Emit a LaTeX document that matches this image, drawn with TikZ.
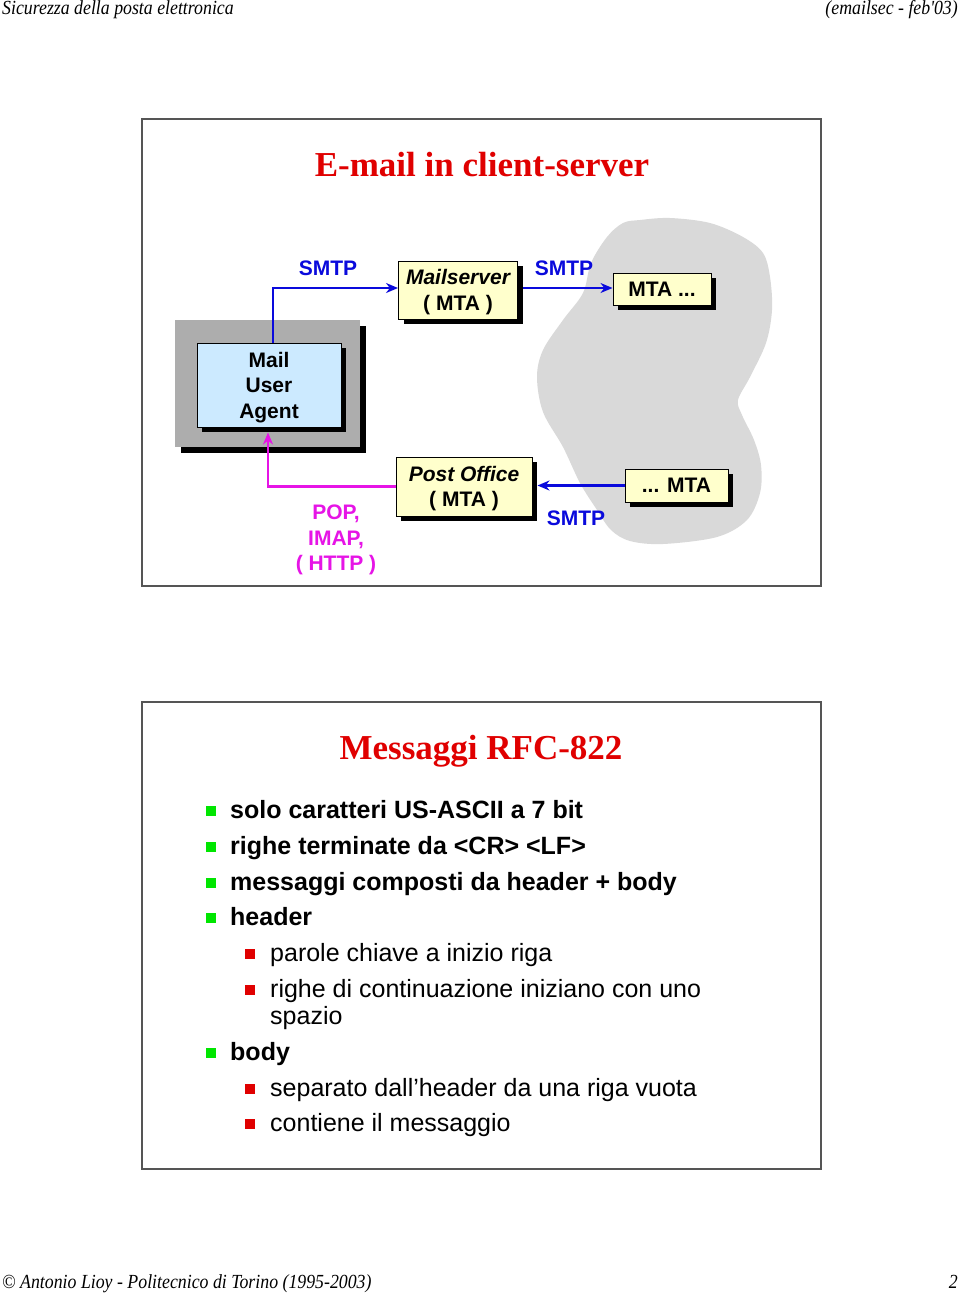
\documentclass[tikz,border=0pt]{standalone}
\usepackage{fontspec}
\setmainfont{Liberation Serif}
\setsansfont{Liberation Sans}
\newfontfamily\hdrfont{Liberation Serif}[FakeStretch=0.89]
\usetikzlibrary{arrows.meta,shadows}
\definecolor{slidered}{RGB}{224,0,0}
\definecolor{smtpblue}{RGB}{10,10,220}
\definecolor{popmag}{RGB}{230,20,230}
\definecolor{mtayellow}{RGB}{255,255,204}
\definecolor{muablue}{RGB}{204,234,255}
\definecolor{bulletgreen}{RGB}{0,230,0}
\definecolor{framegray}{RGB}{85,85,85}
\tikzset{
  dfont/.style={font=\sffamily\bfseries\fontsize{21}{25.5}\selectfont},
  box/.style={dfont, draw=black, line width=1pt, inner sep=0pt, align=center, text depth=0pt,
    drop shadow={shadow xshift=5pt, shadow yshift=-5pt, fill=black, opacity=1}},
  mtabox/.style={box, fill=mtayellow},
  lbl/.style={dfont, inner sep=0pt, align=center},
  smtp/.style={draw=smtpblue, line width=2.2pt, -{Stealth[length=12pt,width=10pt]}},
  pop/.style={draw=popmag, line width=2.2pt, -{Stealth[length=12pt,width=10pt]}},
  slide/.style={draw=framegray, line width=2pt, minimum width=679pt, minimum height=467pt, inner sep=0pt},
  title/.style={font=\bfseries\fontsize{35}{40}\selectfont, text=slidered, inner sep=0pt, anchor=base},
  mainitem/.style={font=\sffamily\bfseries\fontsize{25}{28}\selectfont, inner sep=0pt, anchor=base west},
  subitem/.style={font=\sffamily\fontsize{25}{28}\selectfont, inner sep=0pt, anchor=base west},
  gbullet/.style={fill=bulletgreen, minimum size=10pt, inner sep=0pt},
  rbullet/.style={fill=slidered, minimum size=10pt, inner sep=0pt},
  hdr/.style={font=\hdrfont\itshape\fontsize{20}{22}\selectfont, inner sep=0pt},
}
\begin{document}
\begin{tikzpicture}[x=1pt,y=-1pt]
\useasboundingbox (0,0) rectangle (960,1294);
\fill[white] (0,0) rectangle (960,1294);

% header and footer
\node[hdr, anchor=base west] (hl) at (2,14) {Sicurezza della posta elettronica};
\node[hdr, anchor=base east] (hr) at (958,14) {(emailsec - feb'03)};
\node[hdr, anchor=base west] (fl) at (2,1288) {© Antonio Lioy - Politecnico di Torino (1995-2003)};
\node[hdr, anchor=base east] (fr) at (958,1288) {2};

% ---------- slide 1 ----------
\node[slide] (s1) at (481.5,352.5) {};
\node[title] (t1) at (482,176) {E-mail in client-server};

% cloud
\fill[black!15] plot[smooth cycle, tension=0.55] coordinates {
  (640,220) (670,218) (710,223) (743,237) (763,253) (770,277) (772,310)
  (766,343) (750,377) (738,400) (742,415) (754,440) (761,465) (760,493)
  (747,520) (717,537) (663,544) (630,541) (611,530) (597,510) (580,483)
  (563,447) (543,412) (537,377) (543,350) (563,320) (583,293) (591,263)
  (607,237) (623,223)};

% MUA background
\node[fill=black!32, minimum width=185pt, minimum height=127pt, inner sep=0pt,
  drop shadow={shadow xshift=6pt, shadow yshift=-6pt, fill=black, opacity=1}] (muabg) at (267.5,383.5) {};

% boxes
\node[box, fill=muablue, minimum width=144pt, minimum height=84pt] (mua) at (269,385) {Mail\\User\\Agent};
\node[mtabox, minimum width=119pt, minimum height=58pt] (ms) at (458,290) {\itshape Mailserver\\( MTA )};
\node[mtabox, minimum width=98pt, minimum height=32pt] (mta1) at (662,289) {MTA ...};
\node[mtabox, minimum width=103pt, minimum height=33pt] (mta2) at (676.5,485.5) {... MTA};
\node[mtabox, minimum width=136pt, minimum height=59pt] (po) at (464,486.5) {\itshape Post Office\\( MTA )};

% connectors
\coordinate (muatop) at ([xshift=4pt]mua.north);
\coordinate (toprow) at ([yshift=2pt]ms.west);
\coordinate (msout) at ([xshift=5pt]ms.east);
\coordinate (poin) at ([xshift=5pt]po.east);
\coordinate (muain) at ([xshift=-1pt,yshift=-5pt]mua.south);
\draw[smtp] (muatop) |- (toprow);
\draw[smtp] (msout |- toprow) -- (mta1.west |- toprow);
\draw[smtp] (mta2.west) -- (poin |- mta2.west);
\draw[pop] (po.west) -| (muain);

% labels
\node[lbl, text=smtpblue] (l1) at (328,268) {SMTP};
\node[lbl, text=smtpblue] (l2) at (564,268) {SMTP};
\node[lbl, text=smtpblue] (l3) at (576,518) {SMTP};
\node[lbl, text=popmag] (l4) at (336,540) {POP,\\IMAP,\\( HTTP )};

% ---------- slide 2 ----------
\node[slide] (s2) at (481.5,935.5) {};
\node[title] (t2) at (481,759) {Messaggi RFC-822};

\node[gbullet] (b1) at (211,811) {};
\node[mainitem] (i1) at (230,818) {solo caratteri US-ASCII a 7 bit};
\node[gbullet] (b2) at (211,847) {};
\node[mainitem] (i2) at (230,854) {righe terminate da <CR> <LF>};
\node[gbullet] (b3) at (211,883) {};
\node[mainitem] (i3) at (230,890) {messaggi composti da header + body};
\node[gbullet] (b4) at (211,918) {};
\node[mainitem] (i4) at (230,925) {header};
\node[rbullet] (b5) at (250,954) {};
\node[subitem] (i5) at (270,961) {parole chiave a inizio riga};
\node[rbullet] (b6) at (250,990) {};
\node[subitem] (i6) at (270,997) {righe di continuazione iniziano con uno};
\node[subitem] (i6b) at (270,1024) {spazio};
\node[gbullet] (b7) at (211,1053) {};
\node[mainitem] (i7) at (230,1060) {body};
\node[rbullet] (b8) at (250,1089) {};
\node[subitem] (i8) at (270,1096) {separato dall’header da una riga vuota};
\node[rbullet] (b9) at (250,1124) {};
\node[subitem] (i9) at (270,1131) {contiene il messaggio};
\end{tikzpicture}
\end{document}
